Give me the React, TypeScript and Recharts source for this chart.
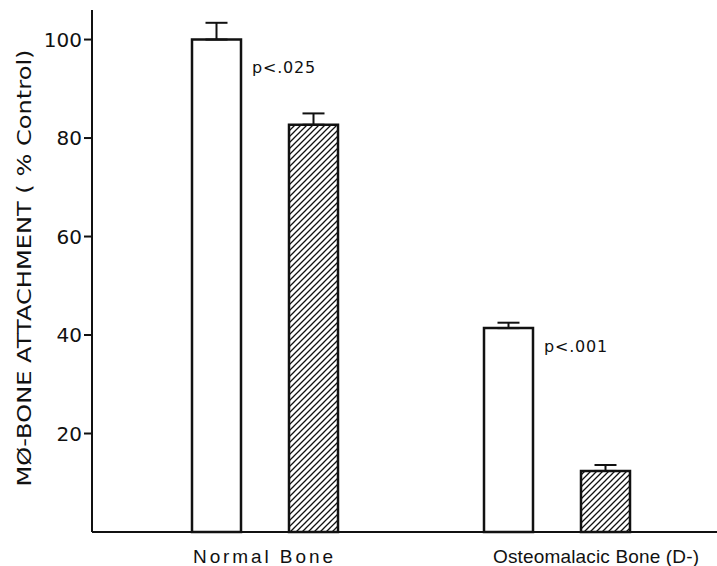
import {
  BarChart,
  Bar,
  XAxis,
  YAxis,
  ErrorBar,
  LabelList,
} from "recharts";

const categories = ["Normal Bone", "Osteomalacic Bone (D-)"];
const controlValues = [100, 41.4];
const controlErr = [3.4, 1.1];
const treatedValues = [82.7, 12.4];
const treatedErr = [2.3, 1.2];
const pLabels = ["p<.025", "p<.001"];
const yTicks = [20, 40, 60, 80, 100];

const data = categories.map((name, i) => ({
  name,
  control: controlValues[i],
  controlErr: [0, controlErr[i]],
  treated: treatedValues[i],
  treatedErr: [0, treatedErr[i]],
}));

const FONT = "'DejaVu Sans', sans-serif";
const LABEL_FONT = "'Liberation Sans', Arial, sans-serif";
// small per-label nudges to match the original typesetting
const xLabelDx = [-72, -64];
const xLabelLen = [140, 206];
const pLabelDy = [33, 24];

const XTick = (props: any) => {
  const { x, y, payload, index } = props;
  return (
    <text
      x={x + xLabelDx[index]}
      y={y + 23}
      textAnchor="start"
      fontFamily={LABEL_FONT}
      fontSize={19}
      textLength={xLabelLen[index]}
      lengthAdjust="spacing"
      fill="#111"
    >
      {payload.value}
    </text>
  );
};

const PLabel = (props: any) => {
  const { x, y, width, index } = props;
  return (
    <text
      x={x + width + 11}
      y={y + pLabelDy[index]}
      fontFamily={FONT}
      fontSize={16}
      letterSpacing={0.8}
      fill="#111"
    >
      {pLabels[index]}
    </text>
  );
};

const YLabel = () => (
  <text
    x={0}
    y={0}
    transform="translate(31, 268) rotate(-90)"
    textAnchor="middle"
    fontFamily={FONT}
    fontSize={20}
    textLength={437}
    lengthAdjust="spacingAndGlyphs"
    fill="#111"
  >
    MØ-BONE ATTACHMENT ( % Control)
  </text>
);

export default function App() {
  return (
    <div style={{ position: "absolute", left: 0, top: 0, background: "#fff" }}>
      <BarChart
        width={717}
        height={566}
        data={data}
        margin={{ top: 10, right: 0, bottom: 0, left: 0 }}
        barSize={49}
        barGap={48}
      >
        <defs>
          <pattern id="hatch" patternUnits="userSpaceOnUse" width={6} height={6}>
            <rect width={6} height={6} fill="#fff" />
            <path
              d="M0,6 L6,0 M-1.5,1.5 L1.5,-1.5 M4.5,7.5 L7.5,4.5"
              stroke="#111"
              strokeWidth={1.3}
            />
          </pattern>
        </defs>
        <XAxis
          dataKey="name"
          height={34}
          axisLine={{ stroke: "#111", strokeWidth: 2 }}
          tickLine={false}
          tick={<XTick />}
          padding={{ left: 27, right: 14 }}
          interval={0}
        />
        <YAxis
          width={92}
          domain={[0, 106]}
          ticks={yTicks}
          axisLine={{ stroke: "#111", strokeWidth: 2 }}
          tickLine={{ stroke: "#111", strokeWidth: 2 }}
          tickSize={8}
          tickMargin={2}
          tick={{ fontFamily: FONT, fontSize: 20, fill: "#111" }}
          label={<YLabel />}
        />
        <Bar
          dataKey="control"
          fill="#fff"
          stroke="#111"
          strokeWidth={2.5}
          isAnimationActive={false}
        >
          <ErrorBar dataKey="controlErr" width={11} stroke="#111" strokeWidth={2} />
          <LabelList dataKey="control" content={<PLabel />} />
        </Bar>
        <Bar
          dataKey="treated"
          fill="url(#hatch)"
          stroke="#111"
          strokeWidth={2.5}
          isAnimationActive={false}
        >
          <ErrorBar dataKey="treatedErr" width={11} stroke="#111" strokeWidth={2} />
        </Bar>
      </BarChart>
    </div>
  );
}
